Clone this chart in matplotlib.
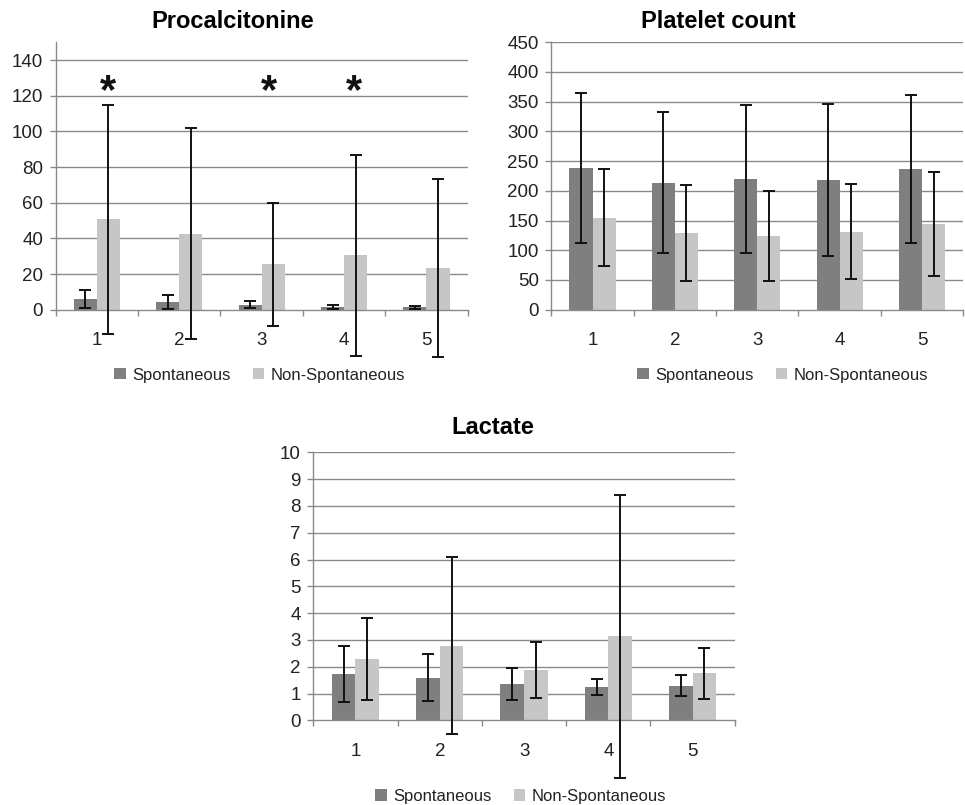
import numpy as np
import matplotlib
matplotlib.use("Agg")
import matplotlib.pyplot as plt
from matplotlib.patches import Patch

plt.rcParams['font.family'] = ['Liberation Sans', 'DejaVu Sans']

categories = [1, 2, 3, 4, 5]
series_names = ["Spontaneous", "Non-Spontaneous"]

# Procalcitonine: means and error (+/-)
pct_spont = [6.0, 4.3, 2.8, 1.7, 1.3]
pct_spont_err = [4.9, 4.0, 2.1, 1.2, 0.9]
pct_non = [50.6, 42.6, 25.4, 30.5, 23.4]
pct_non_err = [64.0, 59.3, 34.6, 56.2, 50.1]
pct_star_x = [1.14, 3.09, 4.12]
pct_star_y = 122

# Platelet count
plt_spont = [238, 214, 220, 218, 237]
plt_spont_err = [126, 118, 124, 128, 125]
plt_non = [155, 129, 124, 131, 144]
plt_non_err = [82, 80, 75, 80, 87]

# Lactate
lac_spont = [1.74, 1.59, 1.37, 1.24, 1.29]
lac_spont_err = [1.05, 0.88, 0.60, 0.31, 0.39]
lac_non = [2.29, 2.79, 1.88, 3.13, 1.75]
lac_non_err = [1.52, 3.30, 1.04, 5.27, 0.96]

dark = "#7f7f7f"
light = "#c6c6c6"
grid_col = "#8a8a8a"

fig = plt.figure(figsize=(9.65, 8.05), dpi=100)


def panel(rect, spont, spont_err, non, non_err, ymax, ytop, ystep):
    ax = fig.add_axes(rect)
    x = np.array(categories, dtype=float)
    w = 0.28
    ax.bar(x - w / 2, spont, w, color=dark, zorder=2)
    ax.bar(x + w / 2, non, w, color=light, zorder=2)
    for xs, v, e in [(x - w / 2, spont, spont_err), (x + w / 2, non, non_err)]:
        eb = ax.errorbar(xs, v, yerr=e, fmt='none', ecolor='#111111',
                         elinewidth=1.4, capsize=4.5, capthick=1.4, zorder=4)
        for art in eb.lines[1] + eb.lines[2]:
            art.set_clip_on(False)
    ax.set_xlim(0.5, 5.5)
    ax.set_ylim(0, ymax)
    yt = np.arange(0, ytop + ystep / 2, ystep)
    ax.set_yticks(yt)
    ax.set_yticklabels([f"{v:g}" for v in yt])
    for v in yt[1:]:
        ax.axhline(v, color=grid_col, lw=1.0, zorder=1)
    ax.set_xticks(categories)
    ax.set_xticklabels([str(c) for c in categories])
    ax.set_xticks(np.arange(0.5, 5.6, 1.0), minor=True)
    ax.tick_params(axis='x', which='major', length=0, pad=16, labelsize=13.5,
                   labelcolor='#222222')
    ax.tick_params(axis='x', which='minor', length=4, width=1, color=grid_col,
                   direction='out')
    ax.tick_params(axis='y', length=4, width=1, color=grid_col, pad=5,
                   labelsize=13.5, labelcolor='#222222')
    for s in ['top', 'right']:
        ax.spines[s].set_visible(False)
    for s in ['left', 'bottom']:
        ax.spines[s].set_color(grid_col)
        ax.spines[s].set_linewidth(1.0)
    return ax


ax1 = panel([0.0577, 0.6153, 0.4269, 0.3323], pct_spont, pct_spont_err,
            pct_non, pct_non_err, 150, 140, 20)
for sx in pct_star_x:
    ax1.text(sx, pct_star_y, "*", fontsize=30, fontweight='bold',
             ha='center', va='center', color='#111111')

ax2 = panel([0.5713, 0.6153, 0.4269, 0.3322], plt_spont, plt_spont_err,
            plt_non, plt_non_err, 450, 450, 50)

ax3 = panel([0.3247, 0.1052, 0.4367, 0.3329], lac_spont, lac_spont_err,
            lac_non, lac_non_err, 10, 10, 1)

# titles
fig.text(233 / 965, 1 - 22 / 805, "Procalcitonine", fontsize=17,
         fontweight='bold', ha='center', va='center')
fig.text(718 / 965, 1 - 22 / 805, "Platelet count", fontsize=17,
         fontweight='bold', ha='center', va='center')
fig.text(493 / 965, 1 - 428 / 805, "Lactate", fontsize=17,
         fontweight='bold', ha='center', va='center')

# legends
handles = [Patch(facecolor=dark, edgecolor='none'),
           Patch(facecolor=light, edgecolor='none')]
for cx, cy in [(260, 375), (783, 375), (521, 796)]:
    fig.legend(handles, series_names, loc='center',
               bbox_to_anchor=(cx / 965, 1 - cy / 805), ncol=2, frameon=False,
               fontsize=12, handlelength=0.7, handleheight=0.7,
               handletextpad=0.4, columnspacing=1.3, borderpad=0,
               labelcolor='#222222')

fig.savefig("out.png", dpi=100)
